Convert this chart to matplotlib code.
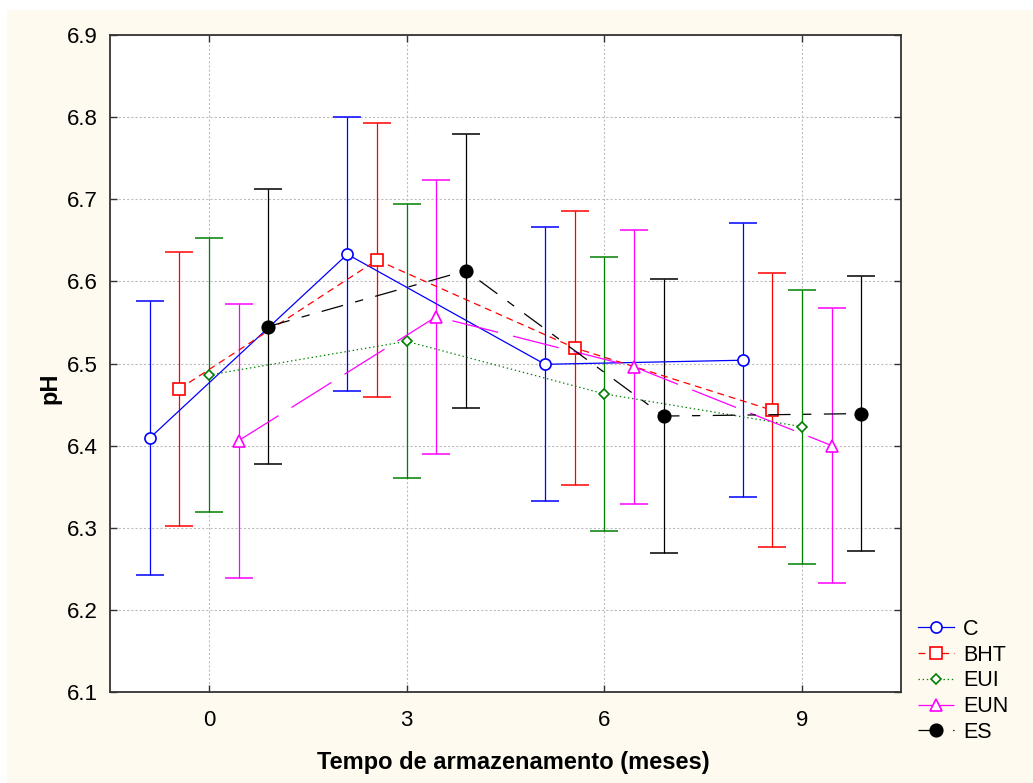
import numpy as np
import matplotlib
matplotlib.use("Agg")
import matplotlib.pyplot as plt
from matplotlib.patches import Rectangle

plt.rcParams["font.family"] = ["Liberation Sans", "DejaVu Sans"]
plt.rcParams["lines.scale_dashes"] = False

# Storage time (months) and mean pH per treatment
times = [0, 3, 6, 9]
ph_c = [6.409, 6.633, 6.499, 6.504]
ph_bht = [6.469, 6.626, 6.519, 6.443]
ph_eui = [6.486, 6.527, 6.463, 6.423]
ph_eun = [6.406, 6.557, 6.496, 6.400]
ph_es = [6.545, 6.613, 6.436, 6.439]

# Half-width of the confidence interval (same for all means)
ci_half = [0.167, 0.167, 0.167, 0.167]

labels = ["C", "BHT", "EUI", "EUN", "ES"]
series = [ph_c, ph_bht, ph_eui, ph_eun, ph_es]

# Plot styles per treatment
styles = [
    dict(color="#0000FF", marker="o", ms=8, mfc="white", dashes=None, offset=-0.9),
    dict(color="#FF0000", marker="s", ms=8.5, mfc="white", dashes=(5, 3.5), offset=-0.45),
    dict(color="#008000", marker="D", ms=5, mfc="white", dashes=(1, 2), offset=0.0),
    dict(color="#FF00FF", marker="^", ms=8, mfc="white", dashes=(34, 11), offset=0.45),
    dict(color="#000000", marker="o", ms=9, mfc="black", dashes=(16, 9, 6, 9), offset=0.9),
]

fig = plt.figure(figsize=(10.33, 7.83), dpi=100)
fig.patch.set_facecolor("white")
fig.add_artist(Rectangle((7 / 1033, 0), 1 - 7 / 1033, 1 - 10 / 783,
                         transform=fig.transFigure, facecolor="#FEFAF0",
                         edgecolor="none", zorder=-10))

ax = fig.add_axes([110 / 1033, 1 - 692 / 783, 791 / 1033, 657 / 783])
ax.set_facecolor("white")

handles = []
for vals, st, lab in zip(series, styles, labels):
    x = np.array(times) + st["offset"]
    ax.errorbar(x, vals, yerr=ci_half, fmt="none", ecolor=st["color"],
                elinewidth=0.9, capsize=10, capthick=1.1, zorder=2)
    line, = ax.plot(x, vals, color=st["color"], lw=0.9,
                    marker=st["marker"], ms=st["ms"], mfc=st["mfc"],
                    mec=st["color"], mew=1.2, label=lab, zorder=3)
    if st["dashes"] is not None:
        line.set_dashes(st["dashes"])
    handles.append(line)

ax.set_xlim(-1.5, 10.5)
ax.set_ylim(6.1, 6.9)
ax.set_xticks(times)
ax.set_yticks(np.arange(6.1, 6.91, 0.1))
ax.set_yticklabels([f"{v:.1f}" for v in np.arange(6.1, 6.91, 0.1)])

ax.grid(True, color="#BBBBBB", lw=0.8, linestyle=(0, (1.5, 1.5)))
ax.set_axisbelow(True)
ax.tick_params(direction="in", length=5, width=1, top=True, right=True,
               labelsize=16, colors="#333333", labelcolor="black")
ax.tick_params(axis="y", pad=9)
ax.tick_params(axis="x", pad=13)
for sp in ax.spines.values():
    sp.set_color("#333333")
    sp.set_linewidth(1.3)

ax.set_xlabel("Tempo de armazenamento (meses)", fontsize=17,
              fontweight="bold")
ax.xaxis.set_label_coords(0.51, -0.09)
ax.set_ylabel("pH", fontsize=17, fontweight="bold")
ax.yaxis.set_label_coords(-0.061, 0.463)

fig.legend(handles=handles, labels=labels, loc="upper left",
           bbox_to_anchor=(918 / 1033, 1 - 619 / 783), frameon=False,
           fontsize=15.5, handlelength=1.65, handletextpad=0.45,
           labelspacing=0.22, borderpad=0, borderaxespad=0)

fig.savefig("out.png", dpi=100, facecolor=fig.get_facecolor())
